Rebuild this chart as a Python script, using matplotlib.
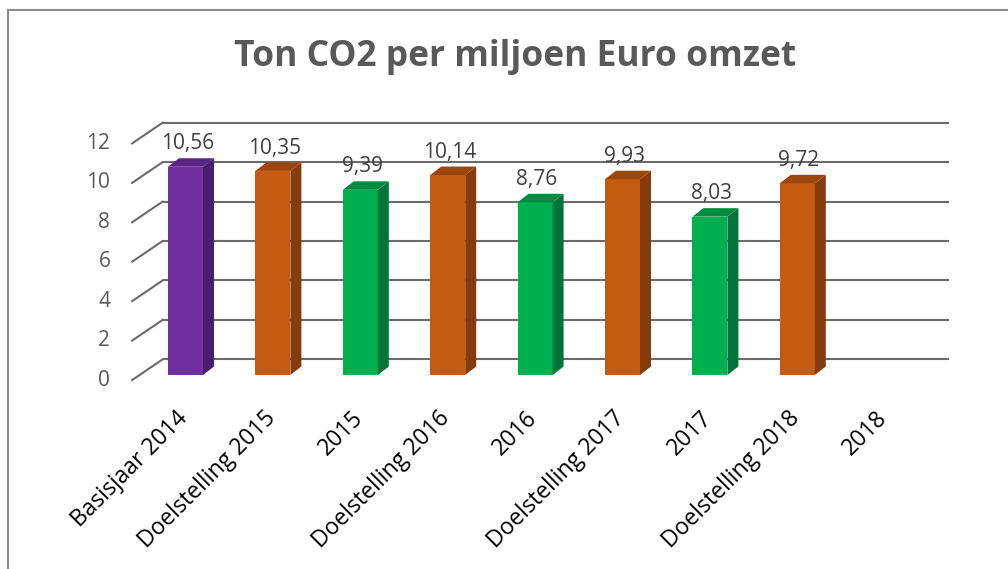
import numpy as np
import matplotlib.pyplot as plt
from matplotlib.patches import Polygon

plt.rcParams['font.family'] = ['Open Sans', 'DejaVu Sans']

# data
categories = ['Basisjaar 2014', 'Doelstelling 2015', '2015', 'Doelstelling 2016',
              '2016', 'Doelstelling 2017', '2017', 'Doelstelling 2018', '2018']
values = [10.56, 10.35, 9.39, 10.14, 8.76, 9.93, 8.03, 9.72, np.nan]
labels = ['10,56', '10,35', '9,39', '10,14', '8,76', '9,93', '8,03', '9,72', '']
yticks = [0, 2, 4, 6, 8, 10, 12]

# front / side / top colours per kind
kind = ['base', 'goal', 'real', 'goal', 'real', 'goal', 'real', 'goal', 'real']
colors = {
    'base': ('#7030a0', '#4b1d6e', '#5a2583'),
    'goal': ('#c55a11', '#843c0c', '#9c460d'),
    'real': ('#00b050', '#00743a', '#008c40'),
}

fig = plt.figure(figsize=(10.08, 5.69), dpi=100)
W, H = 1008, 569

# axes placed so that data coords fit the picture
px_x = 87.4     # px per category
px_y = 19.72    # px per unit
x0_px = 185.5   # centre of first bar
y0_px = 375     # bar base (image px from top)
xlim = (-0.5, 8.5)
ylim = (-2, 14)
left = (x0_px + xlim[0] * px_x) / W
width = (xlim[1] - xlim[0]) * px_x / W
bottom = (H - y0_px + ylim[0] * px_y) / H
height = (ylim[1] - ylim[0]) * px_y / H
ax = fig.add_axes([left, bottom, width, height])
ax.set_xlim(*xlim)
ax.set_ylim(*ylim)
ax.axis('off')

# perspective offsets (data units)
bdx, bdy = 11 / px_x, 8.5 / px_y          # bar depth
wdx, wdy = 23.5 / px_x, 15.7 / px_y       # back wall relative to bar front
fdx, fdy = -7 / px_x, -5 / px_y           # front edge relative to bar front
wall_right = (949 - x0_px) / px_x
x_front = fdx - 0.53

grid_col = '#6b6b6b'
for v in yticks:
    ax.plot([x_front + (wdx - fdx), wall_right], [v + wdy, v + wdy],
            color=grid_col, lw=1.5, clip_on=False, zorder=1,
            solid_capstyle='butt')
    ax.plot([x_front, x_front + (wdx - fdx)], [v + fdy, v + wdy],
            color=grid_col, lw=1.5, clip_on=False, zorder=1)
    ax.text(x_front - 0.25, v + fdy, str(v), ha='right', va='center',
            fontsize=15, color='#595959')

bw = 35 / px_x
for i, v in enumerate(values):
    if np.isnan(v):
        continue
    front, side, top = colors[kind[i]]
    x_l = i - bw / 2
    x_r = i + bw / 2
    ax.bar(i, v, width=bw, color=front, zorder=3)
    ax.add_patch(Polygon([(x_r, 0), (x_r + bdx, bdy), (x_r + bdx, v + bdy), (x_r, v)],
                         closed=True, facecolor=side, edgecolor='none', zorder=3))
    ax.add_patch(Polygon([(x_l, v), (x_r, v), (x_r + bdx, v + bdy), (x_l + bdx, v + bdy)],
                         closed=True, facecolor=top, edgecolor='none', zorder=3))
    ax.text(i + 0.02, v + bdy + 0.45, labels[i], ha='center', va='baseline',
            fontsize=15, color='#404040', zorder=4)

for i, c in enumerate(categories):
    ax.text(i - 0.11, -1.6, c, rotation=45, rotation_mode='anchor',
            ha='right', va='top', fontsize=16.5, color='black')

fig.text(515 / W, 1 - 57 / H, 'Ton CO2 per miljoen Euro omzet', ha='center',
         va='center', fontsize=25.5, fontweight='bold', color='#595959')

# chart frame (only top and left visible)
fig.add_artist(plt.Line2D([8 / W, 8 / W], [0, 1 - 10 / H], color='#8c8c8c', lw=1.5))
fig.add_artist(plt.Line2D([8 / W, 1], [1 - 10 / H, 1 - 10 / H], color='#8c8c8c', lw=1.5))

fig.savefig('out.png', dpi=100)
